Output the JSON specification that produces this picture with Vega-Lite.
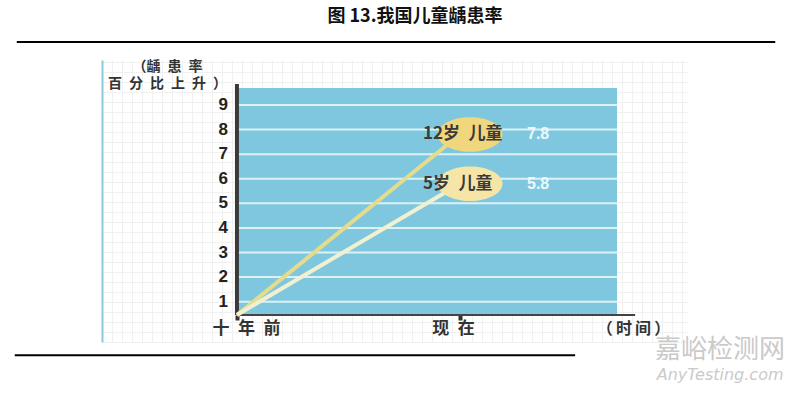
{
  "$schema": "https://vega.github.io/schema/vega-lite/v6.json",
  "width": 586,
  "height": 282,
  "autosize": {"type": "none"},
  "padding": {"left": 102, "top": 60, "right": 112, "bottom": 51},
  "background": "white",
  "config": {"view": {"stroke": null}, "font": "Noto Sans CJK SC"},
  "title": {"text": "图 13.我国儿童龋患率", "fontSize": 18, "fontWeight": "bold", "color": "#111111", "anchor": "middle", "frame": "group", "dx": 20, "offset": 15, "font": "Noto Sans CJK SC"},
  "datasets": {
    "series": [
      {"group": "12岁儿童", "time": -10, "rate": 0.46},
      {"group": "12岁儿童", "time": 0, "rate": 7.8},
      {"group": "5岁儿童", "time": -10, "rate": 0.46},
      {"group": "5岁儿童", "time": 0, "rate": 5.8}
    ],
    "levels": [{"r": 1}, {"r": 2}, {"r": 3}, {"r": 4}, {"r": 5}, {"r": 6}, {"r": 7}, {"r": 8}, {"r": 9}]
  },
  "resolve": {"scale": {"x": "independent", "y": "independent"}, "axis": {"x": "independent", "y": "independent"}},
  "layer": [
    {
      "data": {"values": [{"gx": 0, "gy": 0}]},
      "mark": {"type": "point", "opacity": 0},
      "encoding": {
        "x": {"field": "gx", "type": "quantitative", "scale": {"domain": [0, 58.6], "nice": false, "zero": false},
              "axis": {"orient": "top", "grid": true, "gridColor": "#f0f0f0", "gridWidth": 1, "labels": false, "ticks": false, "domain": false, "tickCount": 59, "title": null}},
        "y": {"field": "gy", "type": "quantitative", "scale": {"domain": [0, 28.2], "nice": false, "zero": false},
              "axis": {"orient": "left", "grid": true, "gridColor": "#f0f0f0", "gridWidth": 1, "labels": false, "ticks": false, "domain": true, "domainColor": "#8ccad8", "domainWidth": 2, "tickCount": 28, "title": null}}
      }
    },
    {
      "layer": [
        {
          "data": {"values": [{}]},
          "mark": {"type": "rect", "color": "#7fc7df"},
          "encoding": {
            "x": {"datum": -10, "type": "quantitative", "scale": {"domain": [-16.05, 10.22], "nice": false, "zero": false},
                  "axis": {"orient": "bottom", "offset": -27, "values": [-10, 0], "labelExpr": "datum.value == -10 ? '十\u2002年\u2002前' : '现\u2002在'",
                           "labelFontSize": 17, "labelFontWeight": "bold", "labelColor": "#333333", "labelPadding": 0,
                           "labelOffset": {"condition": {"test": "datum.value == -10", "value": 9}, "value": -7},
                           "tickSize": 5, "tickWidth": 4, "tickColor": "#333333", "domain": false, "grid": false,
                           "title": "（\u2009时\u2009间\u2009）", "titleFontSize": 16, "titleFontWeight": "bold", "titleColor": "#333333",
                           "titleX": 531, "titleY": 13, "titleAlign": "center", "titleBaseline": "middle"}},
            "x2": {"datum": 7.04},
            "y": {"datum": 0.46, "type": "quantitative", "scale": {"domain": [-0.64, 10.83], "nice": false, "zero": false},
                  "axis": {"orient": "left", "offset": -135, "values": [1, 9], "labels": false, "ticks": false, "domain": false, "grid": false,
                           "title": ["（龋\u2002患\u2002率", "百\u2002分\u2002比\u2002上\u2002升\u2002）"], "titleAngle": 0, "titleAlign": "center", "titleBaseline": "top",
                           "titleX": -70, "titleY": -1, "titleFontSize": 14, "titleFontWeight": "bold", "titleColor": "#333333", "titleLineHeight": 17}},
            "y2": {"datum": 9.69}
          }
        },
        {
          "data": {"name": "levels"},
          "mark": {"type": "rule", "color": "#dcf1f6", "strokeWidth": 2},
          "encoding": {
            "x": {"datum": -10, "type": "quantitative"},
            "x2": {"datum": 7.04},
            "y": {"field": "r", "type": "quantitative"}
          }
        },
        {
          "data": {"name": "levels"},
          "mark": {"type": "text", "align": "right", "baseline": "middle", "dx": -9, "fontSize": 17, "fontWeight": "bold", "font": "Liberation Sans", "color": "#222222"},
          "encoding": {
            "x": {"datum": -10, "type": "quantitative"},
            "y": {"field": "r", "type": "quantitative"},
            "text": {"field": "r"}
          }
        },
        {
          "data": {"values": [{}]},
          "mark": {"type": "rule", "color": "#3a3a3a", "strokeWidth": 4},
          "encoding": {
            "x": {"datum": -10, "type": "quantitative"},
            "y": {"datum": 0.46, "type": "quantitative"},
            "y2": {"datum": 9.85}
          }
        },
        {
          "data": {"values": [{}]},
          "mark": {"type": "rule", "color": "#444444", "strokeWidth": 2},
          "encoding": {
            "x": {"datum": -10, "type": "quantitative"},
            "x2": {"datum": 7.85},
            "y": {"datum": 0.46, "type": "quantitative"}
          }
        },
        {
          "data": {"name": "series"},
          "mark": {"type": "line", "strokeWidth": 4},
          "encoding": {
            "x": {"field": "time", "type": "quantitative"},
            "y": {"field": "rate", "type": "quantitative"},
            "stroke": {"field": "group", "type": "nominal", "scale": {"domain": ["12岁儿童", "5岁儿童"], "range": ["#e4dc8c", "#f1f1d0"]}, "legend": null}
          }
        },
        {
          "data": {"name": "series"},
          "transform": [{"filter": "datum.time == 0"}],
          "mark": {"type": "point", "shape": "M-1,0A1,0.53,0,1,1,1,0A1,0.53,0,1,1,-1,0Z", "size": 4225, "filled": true, "opacity": 1, "xOffset": 10, "strokeWidth": 0},
          "encoding": {
            "x": {"field": "time", "type": "quantitative"},
            "y": {"field": "rate", "type": "quantitative"},
            "fill": {"field": "group", "type": "nominal", "scale": {"domain": ["12岁儿童", "5岁儿童"], "range": ["#f0d67c", "#f5e6a8"]}, "legend": null}
          }
        },
        {
          "data": {"name": "series"},
          "transform": [{"filter": "datum.time == 0"}, {"calculate": "replace(datum.group, '岁', '岁\u2002')", "as": "label"}],
          "mark": {"type": "text", "align": "left", "baseline": "middle", "dx": -37, "fontSize": 17, "fontWeight": "bold", "color": "#3a3a3a"},
          "encoding": {
            "x": {"field": "time", "type": "quantitative"},
            "y": {"field": "rate", "type": "quantitative"},
            "text": {"field": "label"}
          }
        },
        {
          "data": {"name": "series"},
          "transform": [{"filter": "datum.time == 0"}],
          "mark": {"type": "text", "align": "left", "baseline": "middle", "dx": 67, "fontSize": 16, "fontWeight": "bold", "color": "#eef7fa", "font": "Liberation Sans"},
          "encoding": {
            "x": {"field": "time", "type": "quantitative"},
            "y": {"field": "rate", "type": "quantitative"},
            "text": {"field": "rate", "format": ".1f"}
          }
        },
        {
          "data": {"values": [{}]},
          "mark": {"type": "rule", "color": "#000000", "strokeWidth": 2},
          "encoding": {
            "x": {"datum": -19.87, "type": "quantitative"},
            "x2": {"datum": 14.13},
            "y": {"datum": 11.56, "type": "quantitative"}
          }
        },
        {
          "data": {"values": [{}]},
          "mark": {"type": "rule", "color": "#000000", "strokeWidth": 2},
          "encoding": {
            "x": {"datum": -19.96, "type": "quantitative"},
            "x2": {"datum": 5.16},
            "y": {"datum": -1.175, "type": "quantitative"}
          }
        },
        {
          "data": {"values": [{}]},
          "mark": {"type": "text", "align": "center", "baseline": "middle", "fontSize": 26, "color": "#cacaca", "text": "嘉峪检测网"},
          "encoding": {
            "x": {"datum": 11.66, "type": "quantitative"},
            "y": {"datum": -0.96, "type": "quantitative"}
          }
        },
        {
          "data": {"values": [{}]},
          "mark": {"type": "text", "align": "center", "baseline": "middle", "fontSize": 16, "fontStyle": "italic", "font": "DejaVu Sans", "color": "#cacaca", "text": "AnyTesting.com"},
          "encoding": {
            "x": {"datum": 11.66, "type": "quantitative"},
            "y": {"datum": -1.98, "type": "quantitative"}
          }
        }
      ]
    }
  ]
}
